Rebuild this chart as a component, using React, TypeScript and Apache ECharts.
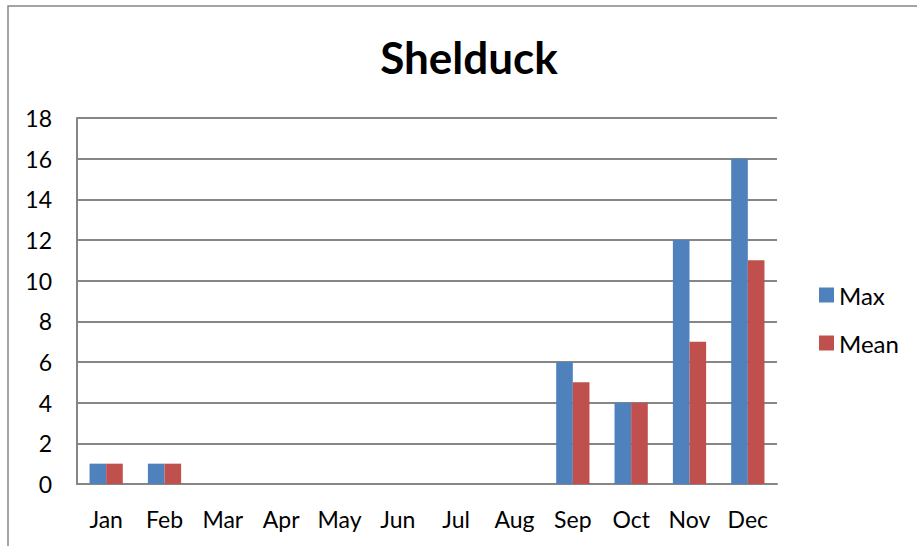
import React, { useEffect, useRef } from "react";
import * as echarts from "echarts";

const months = ["Jan", "Feb", "Mar", "Apr", "May", "Jun", "Jul", "Aug", "Sep", "Oct", "Nov", "Dec"];
const maxValues = [1, 1, 0, 0, 0, 0, 0, 0, 6, 4, 12, 16];
const meanValues = [1, 1, 0, 0, 0, 0, 0, 0, 5, 4, 7, 11];
const seriesNames = ["Max", "Mean"];
const titleText = "Shelduck";

const FONT = "Lato, 'Open Sans', sans-serif";

export default function App() {
  const ref = useRef<HTMLDivElement>(null);
  useEffect(() => {
    if (!ref.current) return;
    const chart = echarts.init(ref.current, undefined, { renderer: "svg" });
    chart.setOption({
      animation: false,
      backgroundColor: "#ffffff",
      graphic: [
        {
          type: "rect",
          shape: { x: 8, y: 6, width: 1000, height: 600 },
          style: { fill: "none", stroke: "#868686", lineWidth: 1.5 },
          silent: true,
        },
        {
          type: "text",
          x: 469,
          y: 57,
          style: {
            text: titleText,
            font: `bold 44px ${FONT}`,
            fill: "#000000",
            textAlign: "center",
            textVerticalAlign: "middle",
          },
        },
      ],
      grid: { left: 77, right: 140, top: 118, bottom: 62, containLabel: false },
      legend: {
        orient: "vertical",
        left: 819,
        top: 283,
        padding: 0,
        itemWidth: 15,
        itemHeight: 15,
        itemGap: 24,
        icon: "rect",
        data: seriesNames,
        textStyle: { fontFamily: FONT, fontSize: 24, color: "#000" },
      },
      xAxis: {
        type: "category",
        data: months,
        axisLine: { show: true, lineStyle: { color: "#868686", width: 2 } },
        axisTick: { show: false },
        axisLabel: { fontFamily: FONT, fontSize: 23, color: "#000", margin: 23, interval: 0 },
      },
      yAxis: {
        type: "value",
        min: 0,
        max: 18,
        interval: 2,
        axisLine: { show: true, lineStyle: { color: "#868686", width: 2 } },
        axisTick: { show: false },
        splitLine: { show: true, lineStyle: { color: "#868686", width: 2 } },
        axisLabel: { fontFamily: FONT, fontSize: 23, color: "#000", margin: 25 },
      },
      series: [
        {
          name: seriesNames[0],
          type: "bar",
          data: maxValues,
          barGap: "0%",
          barCategoryGap: "43%",
          itemStyle: { color: "#4F81BD" },
        },
        {
          name: seriesNames[1],
          type: "bar",
          data: meanValues,
          barGap: "0%",
          barCategoryGap: "43%",
          itemStyle: { color: "#C0504D" },
        },
      ],
    });
    return () => chart.dispose();
  }, []);
  return (
    <div
      ref={ref}
      style={{ position: "fixed", left: 0, top: 0, width: 917, height: 546, background: "#fff" }}
    />
  );
}
